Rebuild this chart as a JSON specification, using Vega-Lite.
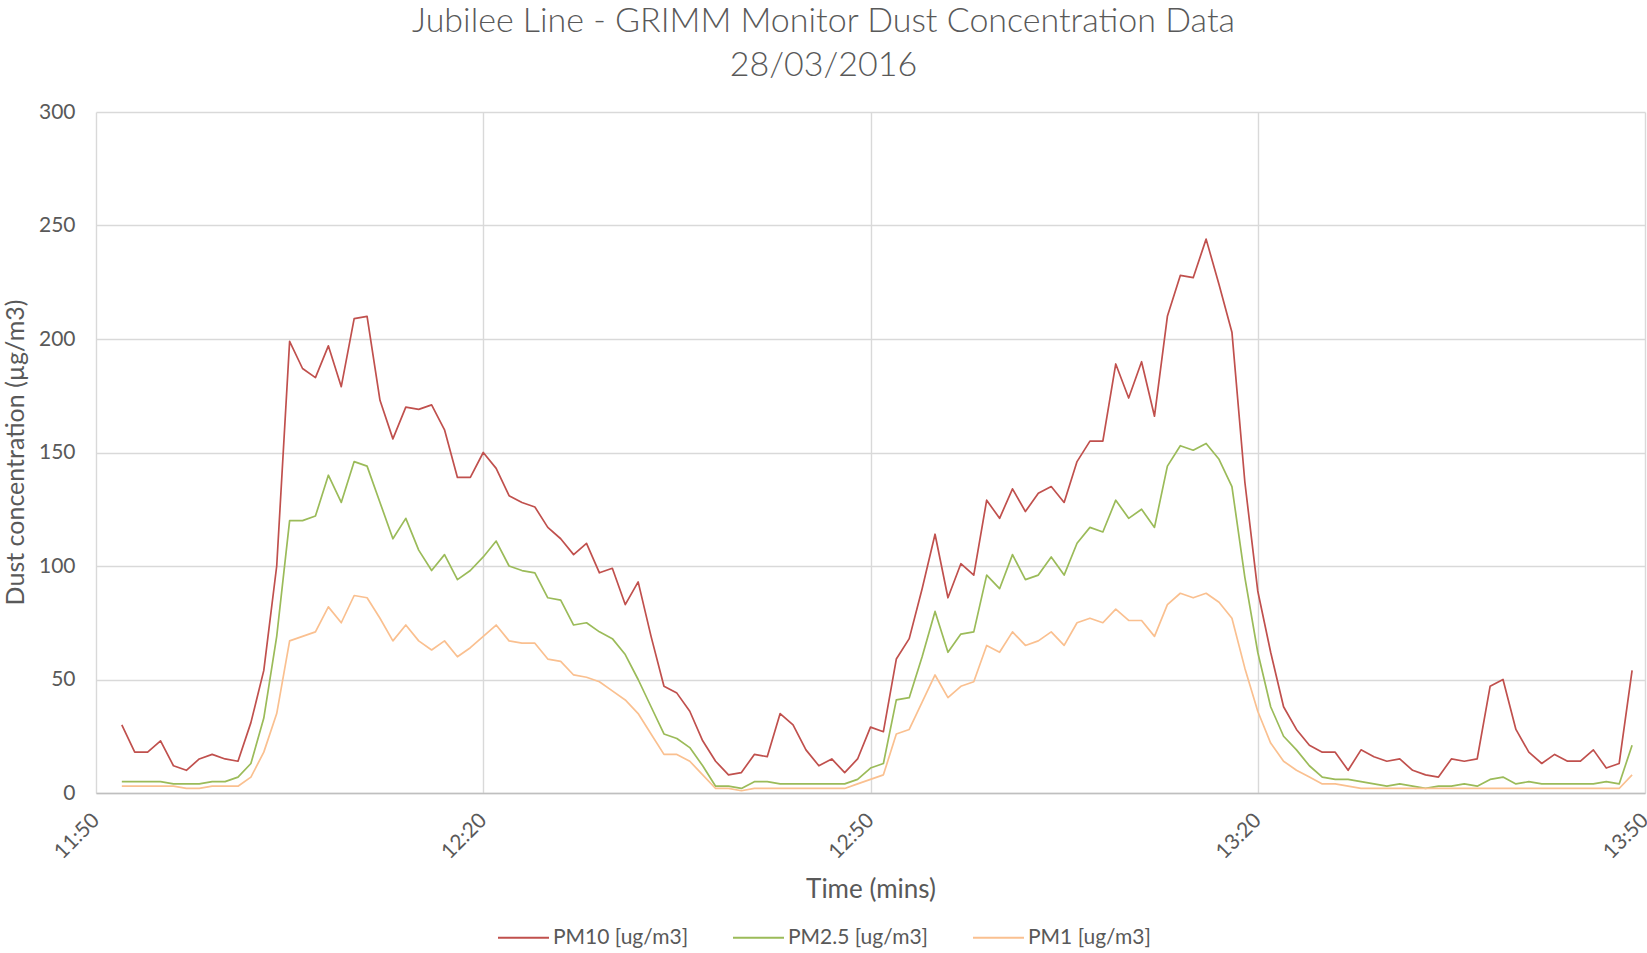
{
  "$schema": "https://vega.github.io/schema/vega-lite/v6.json",
  "width": 1549,
  "height": 681,
  "autosize": "none",
  "padding": {"left": 96, "top": 112, "right": 2, "bottom": 160},
  "background": "white",
  "config": {"view": {"stroke": null}, "font": "Lato"},
  "title": {
    "text": ["Jubilee Line - GRIMM Monitor Dust Concentration Data", "28/03/2016"],
    "fontSize": 34,
    "fontWeight": 300,
    "font": "Lato",
    "color": "#595959",
    "anchor": "middle",
    "frame": "group",
    "dx": -47,
    "offset": 18,
    "lineHeight": 44
  },
  "data": {
    "values": [
      {"t": "2016-03-28T11:52:00", "pm10": 30, "pm25": 5, "pm1": 3},
      {"t": "2016-03-28T11:53:00", "pm10": 18, "pm25": 5, "pm1": 3},
      {"t": "2016-03-28T11:54:00", "pm10": 18, "pm25": 5, "pm1": 3},
      {"t": "2016-03-28T11:55:00", "pm10": 23, "pm25": 5, "pm1": 3},
      {"t": "2016-03-28T11:56:00", "pm10": 12, "pm25": 4, "pm1": 3},
      {"t": "2016-03-28T11:57:00", "pm10": 10, "pm25": 4, "pm1": 2},
      {"t": "2016-03-28T11:58:00", "pm10": 15, "pm25": 4, "pm1": 2},
      {"t": "2016-03-28T11:59:00", "pm10": 17, "pm25": 5, "pm1": 3},
      {"t": "2016-03-28T12:00:00", "pm10": 15, "pm25": 5, "pm1": 3},
      {"t": "2016-03-28T12:01:00", "pm10": 14, "pm25": 7, "pm1": 3},
      {"t": "2016-03-28T12:02:00", "pm10": 31, "pm25": 13, "pm1": 7},
      {"t": "2016-03-28T12:03:00", "pm10": 54, "pm25": 33, "pm1": 18},
      {"t": "2016-03-28T12:04:00", "pm10": 100, "pm25": 69, "pm1": 35},
      {"t": "2016-03-28T12:05:00", "pm10": 199, "pm25": 120, "pm1": 67},
      {"t": "2016-03-28T12:06:00", "pm10": 187, "pm25": 120, "pm1": 69},
      {"t": "2016-03-28T12:07:00", "pm10": 183, "pm25": 122, "pm1": 71},
      {"t": "2016-03-28T12:08:00", "pm10": 197, "pm25": 140, "pm1": 82},
      {"t": "2016-03-28T12:09:00", "pm10": 179, "pm25": 128, "pm1": 75},
      {"t": "2016-03-28T12:10:00", "pm10": 209, "pm25": 146, "pm1": 87},
      {"t": "2016-03-28T12:11:00", "pm10": 210, "pm25": 144, "pm1": 86},
      {"t": "2016-03-28T12:12:00", "pm10": 173, "pm25": 128, "pm1": 77},
      {"t": "2016-03-28T12:13:00", "pm10": 156, "pm25": 112, "pm1": 67},
      {"t": "2016-03-28T12:14:00", "pm10": 170, "pm25": 121, "pm1": 74},
      {"t": "2016-03-28T12:15:00", "pm10": 169, "pm25": 107, "pm1": 67},
      {"t": "2016-03-28T12:16:00", "pm10": 171, "pm25": 98, "pm1": 63},
      {"t": "2016-03-28T12:17:00", "pm10": 160, "pm25": 105, "pm1": 67},
      {"t": "2016-03-28T12:18:00", "pm10": 139, "pm25": 94, "pm1": 60},
      {"t": "2016-03-28T12:19:00", "pm10": 139, "pm25": 98, "pm1": 64},
      {"t": "2016-03-28T12:20:00", "pm10": 150, "pm25": 104, "pm1": 69},
      {"t": "2016-03-28T12:21:00", "pm10": 143, "pm25": 111, "pm1": 74},
      {"t": "2016-03-28T12:22:00", "pm10": 131, "pm25": 100, "pm1": 67},
      {"t": "2016-03-28T12:23:00", "pm10": 128, "pm25": 98, "pm1": 66},
      {"t": "2016-03-28T12:24:00", "pm10": 126, "pm25": 97, "pm1": 66},
      {"t": "2016-03-28T12:25:00", "pm10": 117, "pm25": 86, "pm1": 59},
      {"t": "2016-03-28T12:26:00", "pm10": 112, "pm25": 85, "pm1": 58},
      {"t": "2016-03-28T12:27:00", "pm10": 105, "pm25": 74, "pm1": 52},
      {"t": "2016-03-28T12:28:00", "pm10": 110, "pm25": 75, "pm1": 51},
      {"t": "2016-03-28T12:29:00", "pm10": 97, "pm25": 71, "pm1": 49},
      {"t": "2016-03-28T12:30:00", "pm10": 99, "pm25": 68, "pm1": 45},
      {"t": "2016-03-28T12:31:00", "pm10": 83, "pm25": 61, "pm1": 41},
      {"t": "2016-03-28T12:32:00", "pm10": 93, "pm25": 50, "pm1": 35},
      {"t": "2016-03-28T12:33:00", "pm10": 69, "pm25": 38, "pm1": 26},
      {"t": "2016-03-28T12:34:00", "pm10": 47, "pm25": 26, "pm1": 17},
      {"t": "2016-03-28T12:35:00", "pm10": 44, "pm25": 24, "pm1": 17},
      {"t": "2016-03-28T12:36:00", "pm10": 36, "pm25": 20, "pm1": 14},
      {"t": "2016-03-28T12:37:00", "pm10": 23, "pm25": 12, "pm1": 8},
      {"t": "2016-03-28T12:38:00", "pm10": 14, "pm25": 3, "pm1": 2},
      {"t": "2016-03-28T12:39:00", "pm10": 8, "pm25": 3, "pm1": 2},
      {"t": "2016-03-28T12:40:00", "pm10": 9, "pm25": 2, "pm1": 1},
      {"t": "2016-03-28T12:41:00", "pm10": 17, "pm25": 5, "pm1": 2},
      {"t": "2016-03-28T12:42:00", "pm10": 16, "pm25": 5, "pm1": 2},
      {"t": "2016-03-28T12:43:00", "pm10": 35, "pm25": 4, "pm1": 2},
      {"t": "2016-03-28T12:44:00", "pm10": 30, "pm25": 4, "pm1": 2},
      {"t": "2016-03-28T12:45:00", "pm10": 19, "pm25": 4, "pm1": 2},
      {"t": "2016-03-28T12:46:00", "pm10": 12, "pm25": 4, "pm1": 2},
      {"t": "2016-03-28T12:47:00", "pm10": 15, "pm25": 4, "pm1": 2},
      {"t": "2016-03-28T12:48:00", "pm10": 9, "pm25": 4, "pm1": 2},
      {"t": "2016-03-28T12:49:00", "pm10": 15, "pm25": 6, "pm1": 4},
      {"t": "2016-03-28T12:50:00", "pm10": 29, "pm25": 11, "pm1": 6},
      {"t": "2016-03-28T12:51:00", "pm10": 27, "pm25": 13, "pm1": 8},
      {"t": "2016-03-28T12:52:00", "pm10": 59, "pm25": 41, "pm1": 26},
      {"t": "2016-03-28T12:53:00", "pm10": 68, "pm25": 42, "pm1": 28},
      {"t": "2016-03-28T12:54:00", "pm10": 90, "pm25": 60, "pm1": 40},
      {"t": "2016-03-28T12:55:00", "pm10": 114, "pm25": 80, "pm1": 52},
      {"t": "2016-03-28T12:56:00", "pm10": 86, "pm25": 62, "pm1": 42},
      {"t": "2016-03-28T12:57:00", "pm10": 101, "pm25": 70, "pm1": 47},
      {"t": "2016-03-28T12:58:00", "pm10": 96, "pm25": 71, "pm1": 49},
      {"t": "2016-03-28T12:59:00", "pm10": 129, "pm25": 96, "pm1": 65},
      {"t": "2016-03-28T13:00:00", "pm10": 121, "pm25": 90, "pm1": 62},
      {"t": "2016-03-28T13:01:00", "pm10": 134, "pm25": 105, "pm1": 71},
      {"t": "2016-03-28T13:02:00", "pm10": 124, "pm25": 94, "pm1": 65},
      {"t": "2016-03-28T13:03:00", "pm10": 132, "pm25": 96, "pm1": 67},
      {"t": "2016-03-28T13:04:00", "pm10": 135, "pm25": 104, "pm1": 71},
      {"t": "2016-03-28T13:05:00", "pm10": 128, "pm25": 96, "pm1": 65},
      {"t": "2016-03-28T13:06:00", "pm10": 146, "pm25": 110, "pm1": 75},
      {"t": "2016-03-28T13:07:00", "pm10": 155, "pm25": 117, "pm1": 77},
      {"t": "2016-03-28T13:08:00", "pm10": 155, "pm25": 115, "pm1": 75},
      {"t": "2016-03-28T13:09:00", "pm10": 189, "pm25": 129, "pm1": 81},
      {"t": "2016-03-28T13:10:00", "pm10": 174, "pm25": 121, "pm1": 76},
      {"t": "2016-03-28T13:11:00", "pm10": 190, "pm25": 125, "pm1": 76},
      {"t": "2016-03-28T13:12:00", "pm10": 166, "pm25": 117, "pm1": 69},
      {"t": "2016-03-28T13:13:00", "pm10": 210, "pm25": 144, "pm1": 83},
      {"t": "2016-03-28T13:14:00", "pm10": 228, "pm25": 153, "pm1": 88},
      {"t": "2016-03-28T13:15:00", "pm10": 227, "pm25": 151, "pm1": 86},
      {"t": "2016-03-28T13:16:00", "pm10": 244, "pm25": 154, "pm1": 88},
      {"t": "2016-03-28T13:17:00", "pm10": 224, "pm25": 147, "pm1": 84},
      {"t": "2016-03-28T13:18:00", "pm10": 203, "pm25": 135, "pm1": 77},
      {"t": "2016-03-28T13:19:00", "pm10": 137, "pm25": 95, "pm1": 55},
      {"t": "2016-03-28T13:20:00", "pm10": 89, "pm25": 62, "pm1": 36},
      {"t": "2016-03-28T13:21:00", "pm10": 62, "pm25": 38, "pm1": 22},
      {"t": "2016-03-28T13:22:00", "pm10": 38, "pm25": 25, "pm1": 14},
      {"t": "2016-03-28T13:23:00", "pm10": 28, "pm25": 19, "pm1": 10},
      {"t": "2016-03-28T13:24:00", "pm10": 21, "pm25": 12, "pm1": 7},
      {"t": "2016-03-28T13:25:00", "pm10": 18, "pm25": 7, "pm1": 4},
      {"t": "2016-03-28T13:26:00", "pm10": 18, "pm25": 6, "pm1": 4},
      {"t": "2016-03-28T13:27:00", "pm10": 10, "pm25": 6, "pm1": 3},
      {"t": "2016-03-28T13:28:00", "pm10": 19, "pm25": 5, "pm1": 2},
      {"t": "2016-03-28T13:29:00", "pm10": 16, "pm25": 4, "pm1": 2},
      {"t": "2016-03-28T13:30:00", "pm10": 14, "pm25": 3, "pm1": 2},
      {"t": "2016-03-28T13:31:00", "pm10": 15, "pm25": 4, "pm1": 2},
      {"t": "2016-03-28T13:32:00", "pm10": 10, "pm25": 3, "pm1": 2},
      {"t": "2016-03-28T13:33:00", "pm10": 8, "pm25": 2, "pm1": 2},
      {"t": "2016-03-28T13:34:00", "pm10": 7, "pm25": 3, "pm1": 2},
      {"t": "2016-03-28T13:35:00", "pm10": 15, "pm25": 3, "pm1": 2},
      {"t": "2016-03-28T13:36:00", "pm10": 14, "pm25": 4, "pm1": 2},
      {"t": "2016-03-28T13:37:00", "pm10": 15, "pm25": 3, "pm1": 2},
      {"t": "2016-03-28T13:38:00", "pm10": 47, "pm25": 6, "pm1": 2},
      {"t": "2016-03-28T13:39:00", "pm10": 50, "pm25": 7, "pm1": 2},
      {"t": "2016-03-28T13:40:00", "pm10": 28, "pm25": 4, "pm1": 2},
      {"t": "2016-03-28T13:41:00", "pm10": 18, "pm25": 5, "pm1": 2},
      {"t": "2016-03-28T13:42:00", "pm10": 13, "pm25": 4, "pm1": 2},
      {"t": "2016-03-28T13:43:00", "pm10": 17, "pm25": 4, "pm1": 2},
      {"t": "2016-03-28T13:44:00", "pm10": 14, "pm25": 4, "pm1": 2},
      {"t": "2016-03-28T13:45:00", "pm10": 14, "pm25": 4, "pm1": 2},
      {"t": "2016-03-28T13:46:00", "pm10": 19, "pm25": 4, "pm1": 2},
      {"t": "2016-03-28T13:47:00", "pm10": 11, "pm25": 5, "pm1": 2},
      {"t": "2016-03-28T13:48:00", "pm10": 13, "pm25": 4, "pm1": 2},
      {"t": "2016-03-28T13:49:00", "pm10": 54, "pm25": 21, "pm1": 8}
    ]
  },
  "transform": [{"fold": ["pm10", "pm25", "pm1"], "as": ["series", "value"]}],
  "mark": {"type": "line", "strokeWidth": 1.7, "strokeJoin": "round"},
  "encoding": {
    "x": {
      "field": "t",
      "type": "temporal",
      "scale": {"domain": [
        {"year": 2016, "month": 3, "date": 28, "hours": 11, "minutes": 50},
        {"year": 2016, "month": 3, "date": 28, "hours": 13, "minutes": 50}
      ]},
      "axis": {
        "values": [
          {"year": 2016, "month": 3, "date": 28, "hours": 11, "minutes": 50},
          {"year": 2016, "month": 3, "date": 28, "hours": 12, "minutes": 20},
          {"year": 2016, "month": 3, "date": 28, "hours": 12, "minutes": 50},
          {"year": 2016, "month": 3, "date": 28, "hours": 13, "minutes": 20},
          {"year": 2016, "month": 3, "date": 28, "hours": 13, "minutes": 50}
        ],
        "format": "%H:%M",
        "labelAngle": -45,
        "labelAlign": "right",
        "labelBaseline": "middle",
        "labelPadding": 24,
        "labelFontSize": 21,
        "labelColor": "#595959",
        "labelFlush": false,
        "labelOverlap": false,
        "ticks": false,
        "grid": true,
        "gridColor": "#d9d9d9",
        "gridWidth": 1.4,
        "domainColor": "#bfbfbf",
        "domainWidth": 1.4,
        "title": "Time (mins)",
        "titleFontSize": 26,
        "titleFontWeight": "normal",
        "titleColor": "#595959",
        "titleY": 96,
        "titleBaseline": "middle"
      }
    },
    "y": {
      "field": "value",
      "type": "quantitative",
      "scale": {"domain": [0, 300], "nice": false},
      "axis": {
        "values": [0, 50, 100, 150, 200, 250, 300],
        "ticks": false,
        "domain": false,
        "grid": true,
        "gridColor": "#d9d9d9",
        "gridWidth": 1.4,
        "labelFontSize": 21,
        "labelColor": "#595959",
        "labelPadding": 21,
        "title": "Dust concentration  (µg/m3)",
        "titleFontSize": 25,
        "titleFontWeight": "normal",
        "titleColor": "#595959",
        "titleX": -81,
        "titleY": 340,
        "titleAlign": "center",
        "titleBaseline": "middle",
        "titleAngle": -90
      }
    },
    "color": {
      "field": "series",
      "type": "nominal",
      "scale": {"domain": ["pm10", "pm25", "pm1"], "range": ["#c0504d", "#9bbb59", "#fac090"]},
      "legend": {
        "orient": "none",
        "legendX": 401,
        "legendY": 799,
        "direction": "horizontal",
        "title": null,
        "symbolType": "stroke",
        "symbolSize": 2600,
        "symbolStrokeWidth": 2,
        "labelFontSize": 21,
        "labelColor": "#595959",
        "labelOffset": 3,
        "columnPadding": 40,
        "labelExpr": "datum.value == 'pm10' ? 'PM10 [ug/m3]' : datum.value == 'pm25' ? 'PM2.5 [ug/m3]' : 'PM1 [ug/m3]'"
      }
    }
  }
}
